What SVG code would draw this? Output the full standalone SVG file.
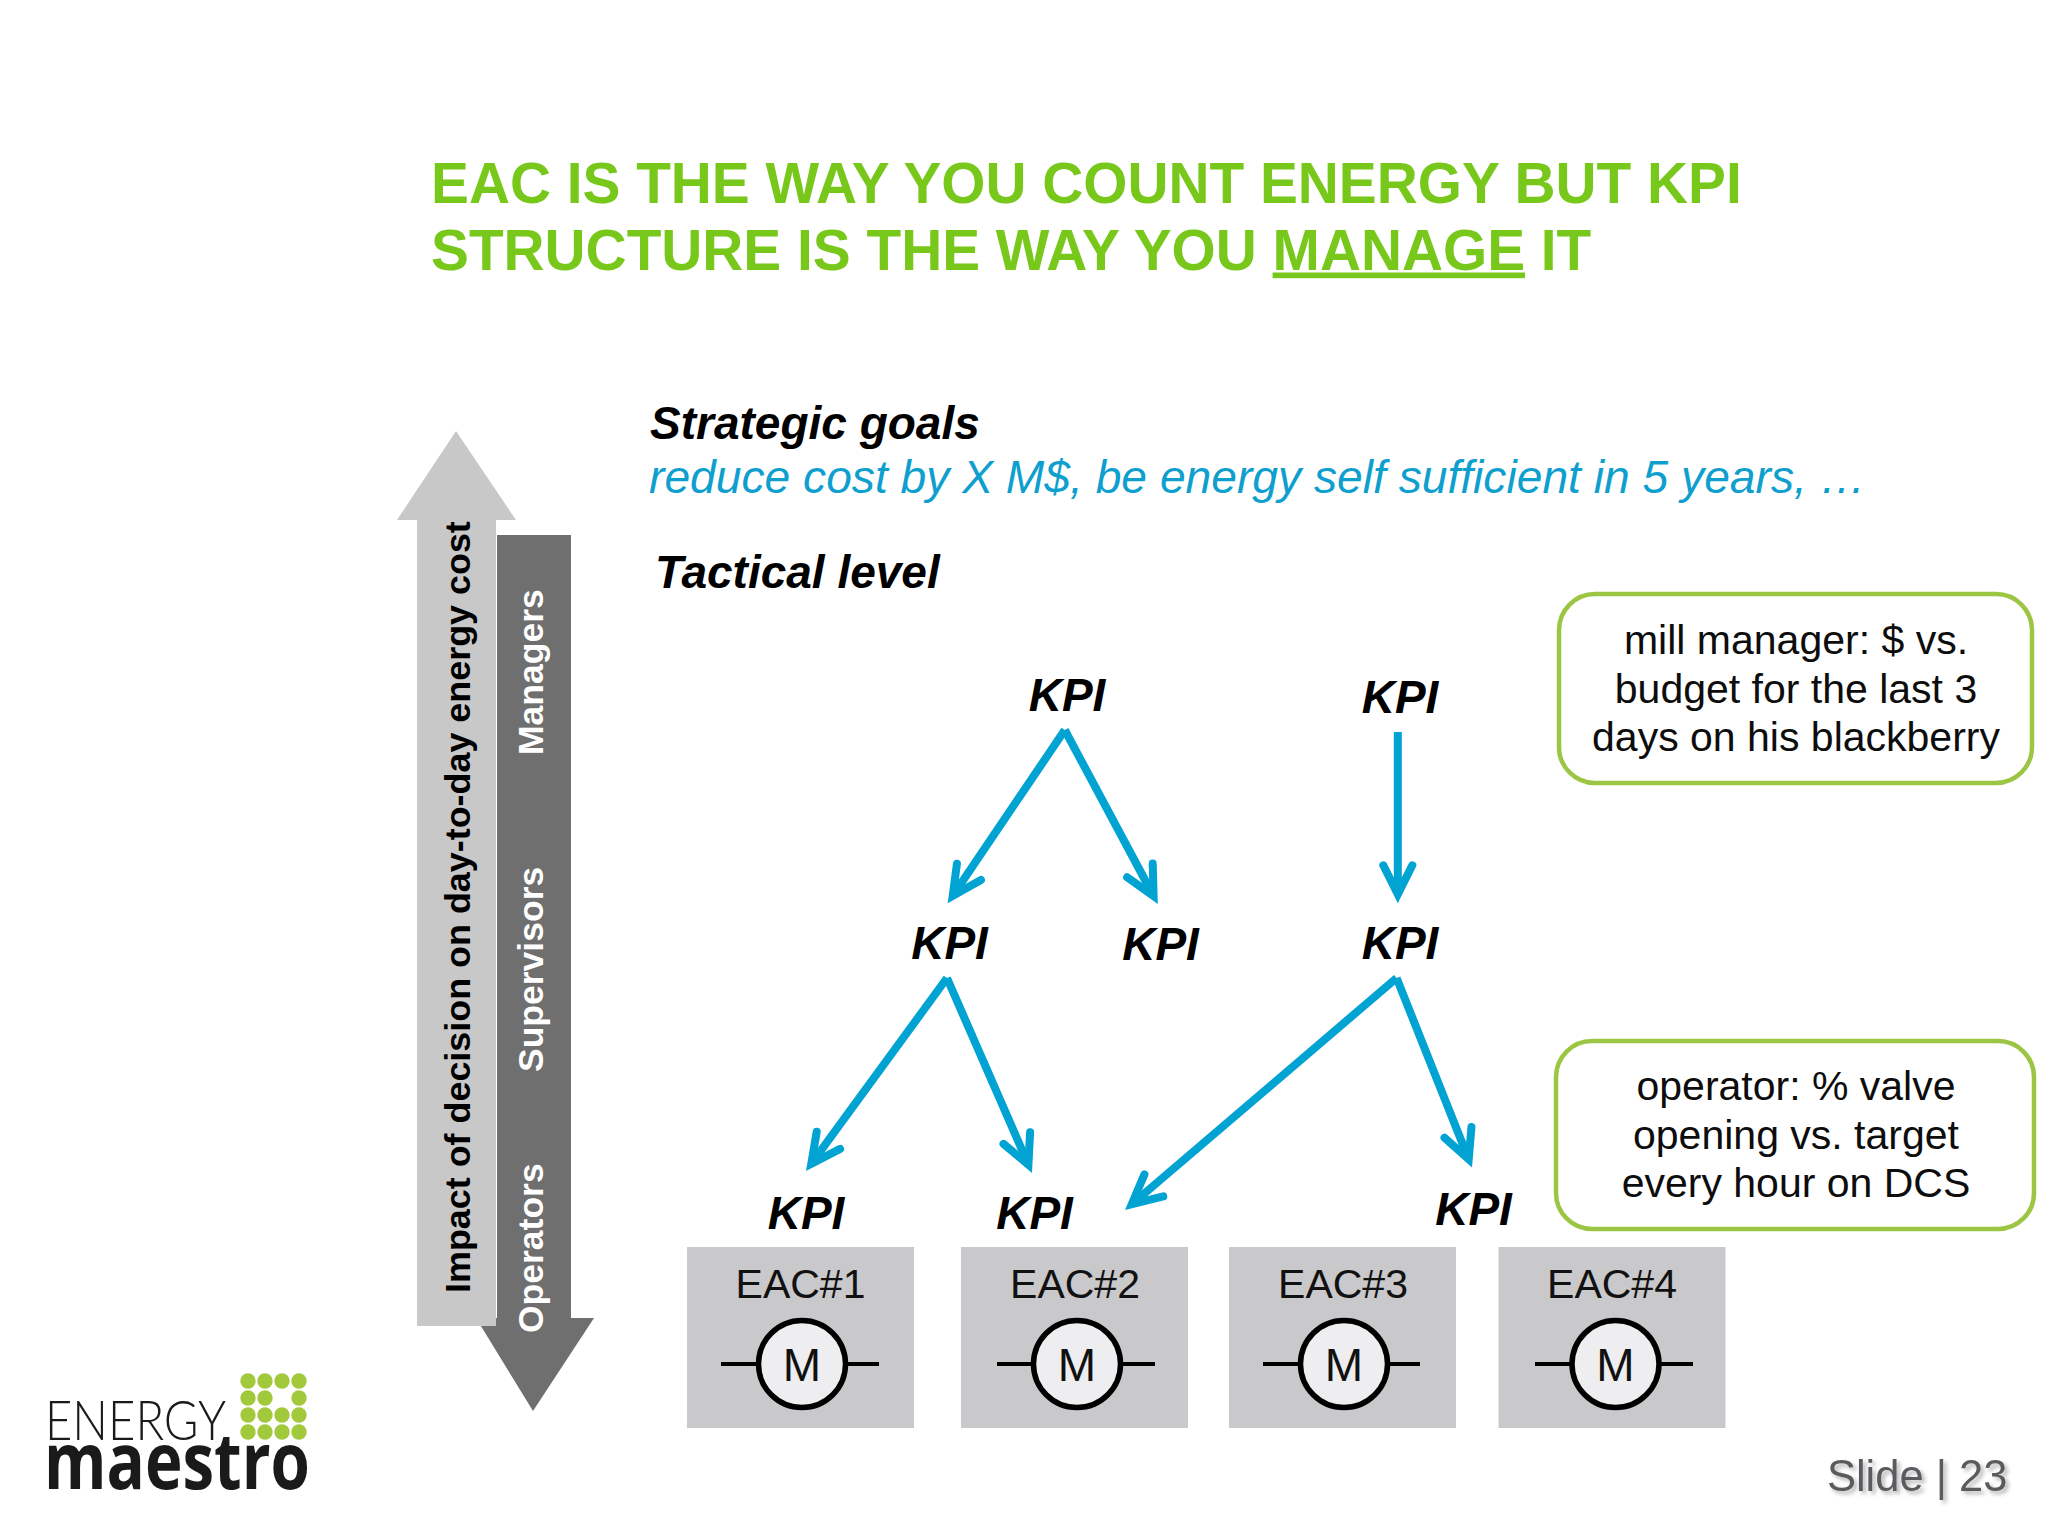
<svg xmlns="http://www.w3.org/2000/svg" width="2048" height="1536" viewBox="0 0 2048 1536">
<style>
text{font-family:"Liberation Sans",Arial,sans-serif;fill:#000}
.title{font-size:56.8px;font-weight:700;fill:#78c81c}
.head{font-size:46px;font-weight:700;font-style:italic}
.kpi{font-size:46px;font-weight:700;font-style:italic;text-anchor:middle}
.note{font-size:41px;text-anchor:middle;fill:#0d0d0d}
.eac{font-size:41px;text-anchor:middle;fill:#111}
.m{font-size:46px;text-anchor:middle;fill:#111}
.box{fill:#c9c8cb}
.motor{fill:#eeedf0;stroke:#000;stroke-width:5.5}
.wire{stroke:#000;stroke-width:4;fill:none}
.callout{fill:#fff;stroke:#9dc544;stroke-width:4.5}
.dot{fill:#a2c83c}
.arr{stroke:#00a3d2;stroke-width:8;fill:none;marker-end:url(#head)}
.side{font-size:35.5px;font-weight:700;fill:#fff}
</style>
<defs>
<marker id="head" markerUnits="userSpaceOnUse" markerWidth="60" markerHeight="60" refX="41" refY="30" orient="auto">
<path d="M12,15.5 L41,30 L12,44.5" fill="none" stroke="#00a3d2" stroke-width="8" stroke-linecap="round" stroke-miterlimit="10"/>
</marker>
<filter id="soft" x="-10%" y="-20%" width="120%" height="150%">
<feDropShadow dx="3" dy="3" stdDeviation="2" flood-color="#000" flood-opacity="0.3"/>
</filter>
</defs>
<rect width="2048" height="1536" fill="#fff"/>
<g id="title">
<text class="title" x="431" y="203">EAC IS THE WAY YOU COUNT ENERGY BUT KPI</text>
<text class="title" x="431" y="269.5">STRUCTURE IS THE WAY YOU <tspan style="text-decoration:underline;text-decoration-thickness:3px;text-underline-offset:6px">MANAGE</tspan> IT</text>
</g>
<g id="dark-arrow">
<polygon points="497,535 571,535 571,1318 594,1318 533,1411 476,1318 497,1318" fill="#6f6f6f"/>
<text class="side" transform="translate(543,755) rotate(-90)">Managers</text>
<text class="side" transform="translate(543,1072) rotate(-90)">Supervisors</text>
<text class="side" transform="translate(543,1333) rotate(-90)">Operators</text>
</g>
<g id="light-arrow">
<polygon points="456,431 516,520 496,520 496,1326 417,1326 417,520 397,520" fill="#c8c8c8"/>
<text transform="translate(470,1293) rotate(-90)" font-size="35.9" font-weight="700">Impact of decision on day-to-day energy cost</text>
</g>
<g id="strategic">
<text class="head" x="650" y="439">Strategic goals</text>
<text x="649" y="493" font-size="46.2" font-style="italic" style="fill:#0f9fcf">reduce cost by X M$, be energy self sufficient in 5 years, …</text>
</g>
<g id="tactical"><text class="head" x="655" y="588">Tactical level</text></g>
<g id="connectors">
<line class="arr" x1="1064.8" y1="730" x2="952.7" y2="895.8"/>
<line class="arr" x1="1064.8" y1="730" x2="1153.6" y2="896"/>
<line class="arr" x1="1397.8" y1="732" x2="1397.8" y2="894.3"/>
<line class="arr" x1="947" y1="978" x2="811.3" y2="1163.7"/>
<line class="arr" x1="947" y1="978" x2="1028.4" y2="1164.7"/>
<line class="arr" x1="1396.6" y1="978" x2="1131.8" y2="1204.2"/>
<line class="arr" x1="1396.6" y1="978" x2="1468.7" y2="1159.3"/>
</g>
<g id="kpi-top-1"><text class="kpi" x="1067" y="711">KPI</text></g>
<g id="kpi-top-2"><text class="kpi" x="1400" y="713">KPI</text></g>
<g id="kpi-mid-1"><text class="kpi" x="949.5" y="959">KPI</text></g>
<g id="kpi-mid-2"><text class="kpi" x="1160.5" y="960">KPI</text></g>
<g id="kpi-mid-3"><text class="kpi" x="1400" y="959">KPI</text></g>
<g id="kpi-low-1"><text class="kpi" x="806" y="1229">KPI</text></g>
<g id="kpi-low-2"><text class="kpi" x="1034.5" y="1229">KPI</text></g>
<g id="kpi-low-3"><text class="kpi" x="1473.5" y="1224.5">KPI</text></g>
<g id="note-manager">
<rect class="callout" x="1559" y="594" width="473" height="189" rx="36"/>
<text class="note" x="1796" y="654">mill manager: $ vs.</text>
<text class="note" x="1796" y="703">budget for the last 3</text>
<text class="note" x="1796" y="751">days on his blackberry</text>
</g>
<g id="note-operator">
<rect class="callout" x="1556" y="1041" width="478" height="188" rx="36"/>
<text class="note" x="1796" y="1100">operator: % valve</text>
<text class="note" x="1796" y="1148.5">opening vs. target</text>
<text class="note" x="1796" y="1197">every hour on DCS</text>
</g>
<g id="eac-1">
<rect class="box" x="687" y="1247" width="227" height="181"/>
<text class="eac" x="800.5" y="1298">EAC#1</text>
<path class="wire" d="M721,1364H757M847,1364H879"/>
<circle class="motor" cx="802" cy="1364" r="43.5"/>
<text class="m" x="802" y="1381">M</text>
</g>
<g id="eac-2">
<rect class="box" x="961" y="1247" width="227" height="181"/>
<text class="eac" x="1075" y="1298">EAC#2</text>
<path class="wire" d="M997,1364H1032M1122,1364H1155"/>
<circle class="motor" cx="1077" cy="1364" r="43.5"/>
<text class="m" x="1077" y="1381">M</text>
</g>
<g id="eac-3">
<rect class="box" x="1229" y="1247" width="227" height="181"/>
<text class="eac" x="1343" y="1298">EAC#3</text>
<path class="wire" d="M1263,1364H1299M1389,1364H1420"/>
<circle class="motor" cx="1344" cy="1364" r="43.5"/>
<text class="m" x="1344" y="1381">M</text>
</g>
<g id="eac-4">
<rect class="box" x="1498.5" y="1247" width="227" height="181"/>
<text class="eac" x="1612" y="1298">EAC#4</text>
<path class="wire" d="M1535,1364H1571M1661,1364H1693"/>
<circle class="motor" cx="1615.5" cy="1364" r="43.5"/>
<text class="m" x="1615.5" y="1381">M</text>
</g>
<g id="logo">
<text x="45" y="1440" font-size="55" textLength="181" lengthAdjust="spacingAndGlyphs" style="font-family:Lato,sans-serif;font-weight:300;fill:#1a1a1a">ENERGY</text>
<text x="44" y="1489" font-size="78" textLength="266" lengthAdjust="spacingAndGlyphs" style="font-family:'Open Sans',sans-serif;font-weight:700;fill:#1a1a1a">maestro</text>
<g>
<circle class="dot" cx="248" cy="1381" r="7.7"/><circle class="dot" cx="265" cy="1381" r="7.7"/><circle class="dot" cx="282" cy="1381" r="7.7"/><circle class="dot" cx="299" cy="1381" r="7.7"/>
<circle class="dot" cx="248" cy="1398" r="7.7"/><circle class="dot" cx="265" cy="1398" r="7.7"/><circle class="dot" cx="299" cy="1398" r="7.7"/>
<circle class="dot" cx="248" cy="1415" r="7.7"/><circle class="dot" cx="265" cy="1415" r="7.7"/><circle class="dot" cx="282" cy="1415" r="7.7"/><circle class="dot" cx="299" cy="1415" r="7.7"/>
<circle class="dot" cx="248" cy="1432" r="7.7"/><circle class="dot" cx="265" cy="1432" r="7.7"/><circle class="dot" cx="282" cy="1432" r="7.7"/><circle class="dot" cx="299" cy="1432" r="7.7"/>
</g>
</g>
<g id="slide-number"><text x="2007.5" y="1491" font-size="43.5" text-anchor="end" filter="url(#soft)" style="fill:#5a5a5e">Slide | 23</text></g>
</svg>
